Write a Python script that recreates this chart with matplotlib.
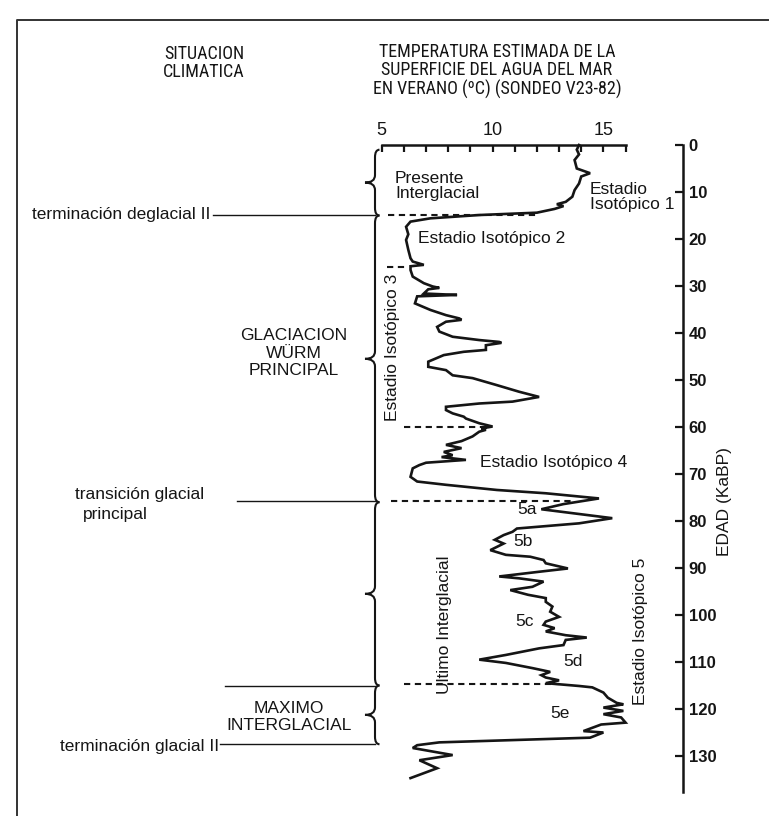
import matplotlib
matplotlib.use("Agg")
import matplotlib.pyplot as plt
from matplotlib.path import Path
from matplotlib.patches import PathPatch
import matplotlib.font_manager as fm

# ---------------- data ----------------
edad_ka = [0.0, 1.0, 2.0, 3.2, 5.0, 6.0, 6.7, 8.2, 9.6, 11.0, 12.1, 12.6, 13.0, 13.6,
           14.4, 14.9, 15.6, 16.3, 17.4, 19.0, 20.2, 22.3, 24.1, 24.8, 25.5, 25.8, 26.6,
           28.0, 29.4, 30.1, 30.4, 30.7, 31.6, 31.9, 32.2, 33.7, 35.1, 36.2, 36.9, 37.2,
           37.6, 38.7, 39.7, 40.8, 41.5, 41.9, 42.1, 42.6, 43.6, 44.0, 44.7, 46.1, 47.2,
           47.9, 49.0, 49.6, 51.1, 52.5, 53.6, 54.6, 55.0, 55.7, 56.4, 57.1, 57.8, 58.2,
           59.2, 59.9, 60.3, 60.6, 61.0, 62.0, 63.0, 63.8, 64.5, 65.3, 66.0, 66.4, 67.0,
           67.6, 68.1, 68.8, 70.6, 71.6, 72.3, 73.4, 74.1, 74.8, 75.2, 76.4, 77.5, 78.5,
           79.4, 80.5, 81.1, 81.6, 82.3, 83.0, 84.0, 84.8, 86.2, 87.2, 87.6, 88.3, 89.0,
           90.1, 90.8, 91.8, 92.2, 92.9, 94.0, 94.7, 95.7, 96.4, 97.2, 98.2, 99.3, 100.4,
           101.4, 102.1, 102.8, 103.5, 104.3, 104.8, 105.3, 106.4, 107.1, 108.5, 109.5,
           110.2, 111.3, 112.1, 112.8, 113.3, 113.9, 114.5, 115.1, 115.4, 116.5, 117.6,
           118.7, 119.0, 119.7, 120.4, 121.1, 121.8, 122.9, 123.3, 124.7, 125.0, 126.1,
           127.1, 127.7, 128.3, 129.8, 130.9, 132.6, 134.7]
temp_c = [13.9, 13.8, 13.9, 13.7, 13.8, 14.4, 14.0, 13.9, 13.7, 13.6, 13.3, 12.9, 13.2, 12.8,
          12.0, 9.4, 7.2, 6.3, 6.1, 6.2, 6.1, 6.2, 6.3, 6.4, 6.9, 6.3, 6.3,
          6.4, 6.9, 7.3, 7.6, 7.1, 6.9, 8.4, 6.6, 6.5, 7.2, 7.9, 8.5, 8.6,
          7.9, 7.5, 7.6, 8.2, 9.4, 10.3, 10.4, 9.7, 9.7, 8.7, 7.8, 7.1, 7.1,
          7.9, 8.2, 9.1, 10.2, 11.2, 12.1, 10.9, 9.4, 7.9, 7.9, 8.2, 8.7, 8.8,
          9.4, 10.0, 9.5, 9.7, 9.4, 9.1, 8.6, 7.9, 8.6, 7.8, 8.2, 7.7, 8.8,
          7.0, 6.7, 6.4, 6.3, 6.6, 7.9, 10.2, 12.4, 13.9, 14.8, 13.2, 12.2, 13.9,
          15.4, 13.9, 12.4, 11.1, 10.9, 10.5, 10.1, 10.5, 9.9, 10.6, 11.7, 12.3, 12.4,
          13.4, 12.1, 10.3, 11.2, 12.3, 11.8, 10.8, 11.6, 12.4, 12.4, 12.7, 12.6, 13.0,
          12.4, 12.3, 12.8, 12.4, 13.3, 14.25, 13.3, 13.2, 12.1, 10.6, 9.4,
          10.6, 11.8, 12.6, 12.2, 12.4, 13.0, 12.4, 13.9, 14.5, 15.0, 15.2,
          15.6, 15.9, 15.0, 15.9, 15.0, 15.8, 16.0, 14.9, 14.1, 15.0, 14.4,
          7.6, 6.6, 6.4, 8.2, 6.7, 7.5, 6.3]

temp_ticks = list(range(5, 17))
temp_ticklabels = ["5", "", "", "", "", "10", "", "", "", "", "15", ""]
edad_ticks = list(range(0, 140, 10))

# limites entre estadios isotópicos (líneas discontinuas): edad, temp inicio, temp fin
limites_edad = [14.8, 25.9, 59.9, 75.7, 114.7]
limites_t0 = [5.3, 5.25, 6.0, 5.4, 6.0]
limites_t1 = [12.0, 6.15, 9.9, 13.6, 13.0]

# situación climática (llaves)
llaves = [(1.0, 15.0), (15.0, 76.0), (76.0, 115.0), (115.0, 127.5)]

# ---------------- layout (pixels) ----------------
W, H = 770, 816
X5, PXC = 381.7, 22.17          # px of 5 ºC, px per ºC
Y0, PXK = 145.0, 4.7            # px of age 0, px per ka
XR = 683.0                      # right (age) axis position
YB = 792.0                      # bottom of age axis

def px2t(px):
    return 5 + (px - X5) / PXC

INK = "#151515"
FONT = ["Liberation Sans", "DejaVu Sans"]

# look for a condensed sans family for the header
narrow_family, narrow_stretch, narrow_found = FONT, "normal", False
_names = {}
for f in fm.fontManager.ttflist:
    _names.setdefault(f.name, set()).add(str(f.stretch))
for cand in ["Liberation Sans Narrow", "Arial Narrow", "Roboto Condensed",
             "Open Sans Condensed", "DejaVu Sans Condensed", "Noto Sans Condensed"]:
    if cand in _names:
        narrow_family, narrow_found = [cand, "DejaVu Sans"], True
        break
if not narrow_found:
    for nm in ["DejaVu Sans", "Noto Sans", "Open Sans", "Roboto"]:
        st = _names.get(nm, set())
        if "condensed" in st or "semi-condensed" in st or "75" in st or "87.5" in st:
            narrow_family, narrow_found = [nm], True
            narrow_stretch = "condensed" if ("condensed" in st or "75" in st) else "semi-condensed"
            break

fig = plt.figure(figsize=(W / 100, H / 100), dpi=100)
fig.patch.set_facecolor("white")

ov = fig.add_axes([0, 0, 1, 1])
ov.set_xlim(0, W)
ov.set_ylim(H, 0)
ov.axis("off")

# frame
ov.plot([17, 17, 768], [830, 20, 20], color="#333333", lw=1.4)

t_right = px2t(XR)
age_bottom = (YB - Y0) / PXK
ax = fig.add_axes([X5 / W, 1 - YB / H, (XR - X5) / W, (YB - Y0) / H])
ax.patch.set_visible(False)
ax.set_xlim(5, t_right)
ax.set_ylim(age_bottom, 0)

for s in ["left", "bottom"]:
    ax.spines[s].set_visible(False)
ax.spines["top"].set_bounds(5, 16)
for s in ["top", "right"]:
    ax.spines[s].set_linewidth(1.8)
    ax.spines[s].set_color(INK)

ax.xaxis.tick_top()
ax.set_xticks(temp_ticks)
ax.set_xticklabels(temp_ticklabels, fontsize=13, family=FONT, color=INK)
ax.tick_params(axis="x", direction="in", length=5, width=1.6, pad=4, colors=INK)
ax.yaxis.tick_right()
ax.set_yticks(edad_ticks)
ax.set_yticklabels([str(v) for v in edad_ticks], fontsize=12, family=FONT,
                   fontweight="bold", color=INK)
ax.tick_params(axis="y", direction="in", length=6, width=1.6, pad=4, colors=INK)

# curve
ax.plot(temp_c, edad_ka, color=INK, lw=1.9, solid_joinstyle="miter", clip_on=False)

# dashed stage limits
for e, t0, t1 in zip(limites_edad, limites_t0, limites_t1):
    ax.plot([t0, t1], [e, e], color=INK, lw=1.5, ls=(0, (3, 2.2)), clip_on=False)

# braces
xm, xt, xe, r = px2t(375), px2t(365), px2t(379.5), 1.6
for a, b in llaves:
    m = (a + b) / 2
    verts = [(xe, a), (xm, a), (xm, a + r),
             (xm, m - r),
             (xm, m), (xt, m),
             (xm, m), (xm, m + r),
             (xm, b - r),
             (xm, b), (xe, b)]
    codes = [Path.MOVETO, Path.CURVE3, Path.CURVE3,
             Path.LINETO,
             Path.CURVE3, Path.CURVE3,
             Path.CURVE3, Path.CURVE3,
             Path.LINETO,
             Path.CURVE3, Path.CURVE3]
    ax.add_patch(PathPatch(Path(verts, codes), fill=False, lw=1.5, ec=INK, clip_on=False))

# left horizontal lines
for e, x0 in [(14.8, 213), (75.7, 237), (115.0, 225), (127.5, 220)]:
    ax.plot([px2t(x0), xm], [e, e], color=INK, lw=1.0, clip_on=False)

# ---------------- texts (pixel overlay) ----------------
def txt(x, y, s, size=12.5, ha="left", rot=0, fam=FONT, ls=1.0, stretch="normal"):
    ov.text(x, y, s, fontsize=size, ha=ha, va="center", rotation=rot, family=fam,
            color=INK, linespacing=ls, rotation_mode="anchor", fontstretch=stretch)

hsize = 13 if narrow_found else 11.2
txt(204, 63, "SITUACION\nCLIMATICA", size=hsize, ha="center", fam=narrow_family,
    ls=1.0, stretch=narrow_stretch)
txt(497, 71, "TEMPERATURA ESTIMADA DE LA\nSUPERFICIE DEL AGUA DEL MAR\nEN VERANO (ºC) (SONDEO V23-82)",
    size=hsize, ha="center", fam=narrow_family, ls=1.0, stretch=narrow_stretch)

txt(395, 186, "Presente\nInterglacial", ls=1.05)
txt(590, 197, "Estadio\nIsotópico 1", ls=1.05)
txt(418, 238, "Estadio Isotópico 2")
txt(480, 462, "Estadio Isotópico 4")
txt(393, 347, "Estadio Isotópico 3", ha="center", rot=90)
txt(445, 625, "Ultimo Interglacial", ha="center", rot=90)
txt(641, 631, "Estadio Isotópico 5", ha="center", rot=90)
txt(724, 502, "EDAD (KaBP)", ha="center", rot=90)
txt(517, 510, "5a")
txt(513, 541, "5b")
txt(515, 622, "5c")
txt(563, 662, "5d")
txt(550, 713, "5e")

txt(32, 215, "terminación deglacial II")
txt(294, 353, "GLACIACION\nWÜRM\nPRINCIPAL", ha="center", ls=1.2)
txt(75, 494, "transición glacial")
txt(83, 515, "principal")
txt(289, 717, "MAXIMO\nINTERGLACIAL", ha="center", ls=1.2)
txt(60, 747, "terminación glacial II")

fig.savefig("out.png", dpi=100, facecolor="white")
